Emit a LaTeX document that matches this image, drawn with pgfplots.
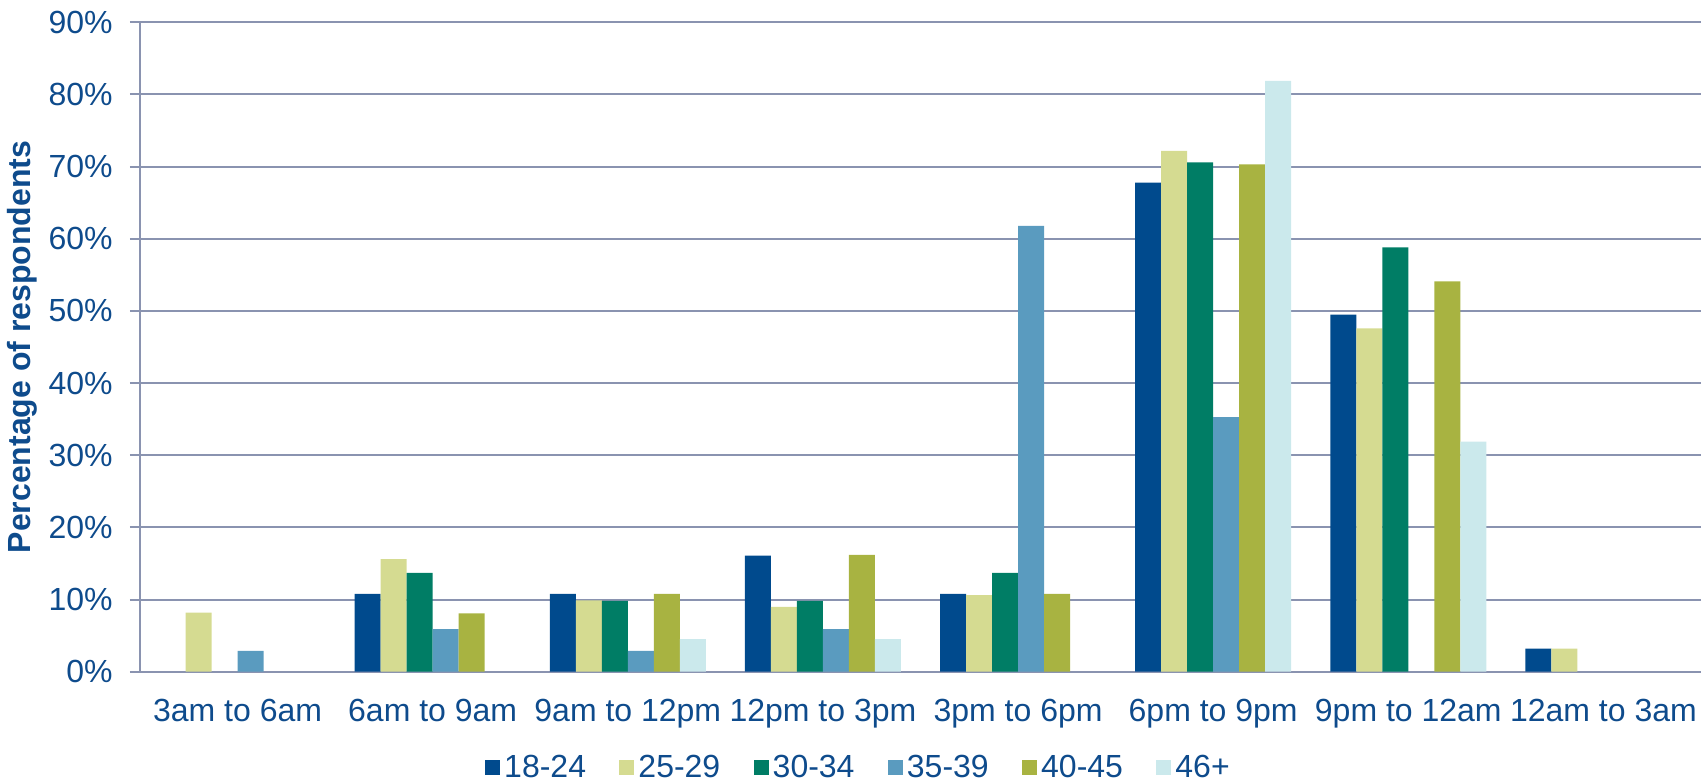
\documentclass[border=0pt]{standalone}
\usepackage{pgfplots}
\pgfplotsset{compat=1.18}
\usepackage{fontspec}
\setmainfont{Liberation Sans}

\definecolor{txt}{RGB}{14,75,140}
\definecolor{gridc}{RGB}{138,147,176}
\definecolor{cA}{RGB}{0,74,141}
\definecolor{cB}{RGB}{213,219,145}
\definecolor{cC}{RGB}{0,125,101}
\definecolor{cD}{RGB}{90,155,191}
\definecolor{cE}{RGB}{168,179,65}
\definecolor{cF}{RGB}{203,233,236}

\newcommand{\lbl}{\fontsize{16}{18}\selectfont\color{txt}}

\begin{document}
\begin{tikzpicture}
\path[use as bounding box] (-70pt,-55.15pt) rectangle (783.5pt,335.85pt);
\begin{axis}[
  at={(0,0)}, anchor=south west,
  scale only axis,
  width=780.5pt, height=324.7pt,
  ybar=0pt, bar width=0.1333,
  xmin=-0.5, xmax=7.5,
  ymin=0, ymax=90,
  axis lines*=left,
  axis line style={gridc, line width=1pt},
  ymajorgrids,
  grid style={gridc, line width=1pt},
  tick align=outside,
  major tick length=5pt,
  tick style={gridc, line width=1pt},
  xtick={0,...,7},
  xticklabels={3am to 6am, 6am to 9am, 9am to 12pm, 12pm to 3pm, 3pm to 6pm, 6pm to 9pm, 9pm to 12am, 12am to 3am},
  major x tick style={draw=none},
  extra x ticks={-0.5,0.5,...,7.5},
  extra x tick labels={},
  extra x tick style={grid=none},
  xticklabel style={font=\lbl, anchor=base, inner sep=0pt, yshift=-19.9pt},
  ytick={0,10,...,90},
  yticklabels={0\%,10\%,20\%,30\%,40\%,50\%,60\%,70\%,80\%,90\%},
  yticklabel style={font=\lbl, anchor=east, inner sep=0pt, xshift=-8.5pt},
  ylabel={Percentage of respondents},
  ylabel style={font=\lbl\bfseries, at={(axis description cs:-0.0751,0.5)}, anchor=center},
  legend columns=6,
  legend style={draw=none, fill=none, font=\lbl,
    at={(axis description cs:0.4609,-0.1480)}, anchor=center,
    /tikz/every even column/.append style={column sep=14.7pt},
    nodes={inner sep=2pt}},
  legend image code/.code={\fill[#1] (0pt,-3.75pt) rectangle (7.5pt,3.75pt);},
]
\addplot[fill=cA, draw=none] coordinates {(1,10.8) (2,10.8) (3,16.1) (4,10.8) (5,67.8) (6,49.5) (7,3.2)};
\addplot[fill=cB, draw=none] coordinates {(0,8.2) (1,15.6) (2,9.9) (3,9.0) (4,10.6) (5,72.2) (6,47.6) (7,3.2)};
\addplot[fill=cC, draw=none] coordinates {(1,13.7) (2,9.8) (3,9.8) (4,13.7) (5,70.6) (6,58.8)};
\addplot[fill=cD, draw=none] coordinates {(0,2.9) (1,5.9) (2,2.9) (3,5.9) (4,61.8) (5,35.3)};
\addplot[fill=cE, draw=none] coordinates {(1,8.1) (2,10.8) (3,16.2) (4,10.8) (5,70.3) (6,54.1)};
\addplot[fill=cF, draw=none] coordinates {(2,4.5) (3,4.5) (5,81.9) (6,31.9)};
\legend{18-24,25-29,30-34,35-39,40-45,46+}
\end{axis}
\end{tikzpicture}
\end{document}
